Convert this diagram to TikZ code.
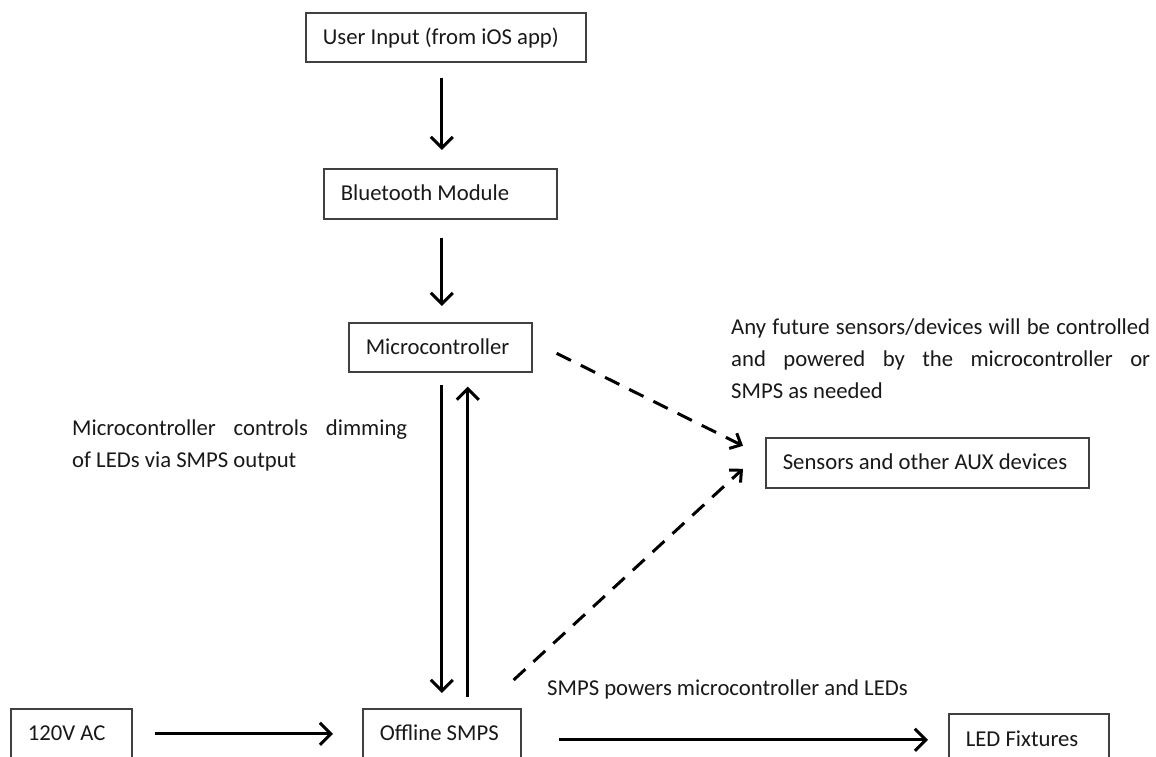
\documentclass[tikz,border=0pt]{standalone}
\usepackage{fontspec}
\setmainfont{Carlito}
\usetikzlibrary{arrows.meta}
\begin{document}
\begin{tikzpicture}[x=1pt,y=-1pt,
  every node/.style={font=\fontsize{22.7}{32}\selectfont, text=black!90},
  box/.style={draw=black!75, line width=1.6pt, anchor=north west, inner xsep=17pt, inner ysep=0pt, align=flush left, text height=17pt, text depth=3pt},
  arr/.style={line width=3pt, -{Straight Barb[length=11pt,width=22pt]}},
  darr/.style={line width=3pt, dash pattern=on 16pt off 11pt, -{Straight Barb[length=9pt,width=17pt]}},
  note/.style={anchor=base west, inner sep=0pt, align=justify}
]
\useasboundingbox[fill=white] (0,0) rectangle (1156,757);

\node[box, minimum height=49pt, text width=246pt] (ui) at (305,12) {User Input (from iOS app)};
\node[box, minimum height=50pt, text width=199pt] (bt) at (323,168) {Bluetooth Module};
\node[box, minimum height=49pt, text width=149pt] (mc) at (348,322) {Microcontroller};
\node[box, minimum height=50pt, text width=289pt] (sen) at (765,437) {Sensors and other AUX devices};
\node[box, minimum height=50pt, text width=87pt] (ac) at (10,708) {120V AC};
\node[box, minimum height=50pt, text width=124pt] (smps) at (362,708) {Offline SMPS};
\node[box, minimum height=52pt, text width=126pt] (led) at (948,713) {LED Fixtures};

\draw[arr] ([xshift=-4pt,yshift=-15pt]ui.south) -- ([xshift=1.5pt,yshift=18pt]bt.north);
\draw[arr] ([xshift=1.5pt,yshift=-18pt]bt.south) -- ([xshift=1.5pt,yshift=16pt]mc.north);
\draw[arr] ([xshift=1.5pt,yshift=-12pt]mc.south) -- ([yshift=15pt]smps.north);
\draw[arr] ([xshift=26pt,yshift=11pt]smps.north) -- ([xshift=27.5pt,yshift=-14pt]mc.south);
\draw[arr] ([xshift=22pt]ac.east) -- ([xshift=-29pt]smps.west);
\draw[arr] ([xshift=37pt,yshift=-6pt]smps.east) -- ([xshift=-20pt]led.west);
\draw[darr] ([xshift=24pt,yshift=-6pt]mc.east) -- ([xshift=-22pt,yshift=17pt]sen.west);
\draw[darr] ([xshift=-8pt,yshift=28pt]smps.north east) -- ([xshift=-22pt,yshift=-6pt]sen.west);

\node[note, text width=335pt] (n1) at (72,435) {Microcontroller controls dimming\linebreak of LEDs via SMPS output};
\node[note, text width=419pt] (n2) at (731,334) {Any future sensors/devices will be controlled\linebreak and powered by the microcontroller or\linebreak SMPS as needed};
\node[anchor=base west, inner sep=0pt] (n3) at (547,695) {SMPS powers microcontroller and LEDs};
\end{tikzpicture}
\end{document}
